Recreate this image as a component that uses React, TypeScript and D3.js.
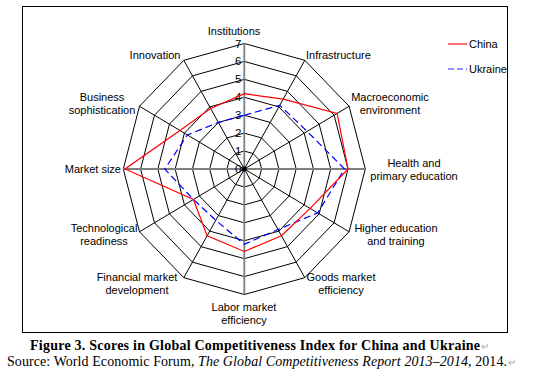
import React from 'react'
import * as d3 from 'd3'

const categories = [
  'Institutions',
  'Infrastructure',
  'Macroeconomic environment',
  'Health and primary education',
  'Higher education and training',
  'Goods market efficiency',
  'Labor market efficiency',
  'Financial market development',
  'Technological readiness',
  'Market size',
  'Business sophistication',
  'Innovation',
]
const chinaScores = [4.2, 4.5, 6.2, 6.0, 4.4, 4.3, 4.6, 4.3, 3.4, 6.9, 4.3, 3.9]
const ukraineScores = [3.0, 4.1, 4.2, 5.8, 4.9, 3.9, 4.2, 3.3, 3.4, 4.6, 3.8, 3.0]
const ticks = [0, 1, 2, 3, 4, 5, 6, 7]
const seriesNames = ['China', 'Ukraine']

// category labels split into lines as in the figure
const labelLines: string[][] = [
  ['Institutions'],
  ['Infrastructure'],
  ['Macroeconomic', 'environment'],
  ['Health and', 'primary education'],
  ['Higher education', 'and training'],
  ['Goods market', 'efficiency'],
  ['Labor market', 'efficiency'],
  ['Financial market', 'development'],
  ['Technological', 'readiness'],
  ['Market size'],
  ['Business', 'sophistication'],
  ['Innovation'],
]
const labelPos: [number, number, string][] = [
  [234, 35, 'middle'],
  [306, 59, 'start'],
  [390, 101, 'middle'],
  [414, 167, 'middle'],
  [396, 232, 'middle'],
  [341, 281, 'middle'],
  [244, 311, 'middle'],
  [137, 281, 'middle'],
  [104, 232, 'middle'],
  [121, 173, 'end'],
  [102, 101, 'middle'],
  [155, 59, 'middle'],
]

const W = 545
const H = 388
const cx = 244.3
const cy = 169
const font = 'Arial, "Liberation Sans", sans-serif'
const serif = '"Liberation Serif", "Times New Roman", serif'

export default function App() {
  const rx = d3.scaleLinear().domain([0, 7]).range([0, 121])
  const ry = d3.scaleLinear().domain([0, 7]).range([0, 125.5])
  const angle = d3
    .scaleLinear()
    .domain([0, categories.length])
    .range([0, 2 * Math.PI])

  const pt = (i: number, v: number): [number, number] => [
    cx + rx(v) * Math.sin(angle(i)),
    cy - ry(v) * Math.cos(angle(i)),
  ]

  const closed = d3.line().curve(d3.curveLinearClosed)
  const ring = (v: number) => closed(categories.map((_, i) => pt(i, v)))!
  const series = (vals: number[]) => closed(vals.map((v, i) => pt(i, v)))!

  return (
    <svg
      width={W}
      height={H}
      style={{ position: 'absolute', left: 0, top: 0, background: '#fff' }}
    >
      <rect x={22.5} y={6.5} width={485} height={326} fill="none" stroke="#000" />

      {/* grid rings */}
      {ticks.slice(1).map((t) => (
        <path key={t} d={ring(t)} fill="none" stroke="#000" strokeWidth={1} />
      ))}
      {/* spokes */}
      {categories.map((_, i) => {
        const [x, y] = pt(i, 7)
        const main = i % 3 === 0
        return (
          <line
            key={i}
            x1={cx}
            y1={cy}
            x2={x}
            y2={y}
            stroke={main ? '#7f7f7f' : '#000'}
            strokeWidth={main ? 1.8 : 1}
          />
        )
      })}
      <circle cx={cx} cy={cy} r={2.5} fill="#000" />

      {/* value axis tick labels */}
      {ticks.map((t) => (
        <text
          key={t}
          x={cx - 3}
          y={cy - ry(t) + 4}
          textAnchor="end"
          fontFamily={font}
          fontSize={11.5}
          fill="#000"
        >
          {t}
        </text>
      ))}

      {/* series */}
      <path d={series(ukraineScores)} fill="none" stroke="#0000ff" strokeWidth={1.2} strokeDasharray="7,4" />
      <path d={series(chinaScores)} fill="none" stroke="#ff0000" strokeWidth={1.2} />

      {/* category labels */}
      {labelLines.map((lines, i) => (
        <text
          key={i}
          x={labelPos[i][0]}
          y={labelPos[i][1]}
          textAnchor={labelPos[i][2] as any}
          fontFamily={font}
          fontSize={11}
          fill="#000"
        >
          {lines.map((l, j) => (
            <tspan key={j} x={labelPos[i][0]} dy={j === 0 ? 0 : 13}>
              {l}
            </tspan>
          ))}
        </text>
      ))}

      {/* legend */}
      {seriesNames.map((name, i) => (
        <g key={name} transform={`translate(448,${44 + i * 25})`}>
          <line
            x1={0}
            x2={19}
            y1={0}
            y2={0}
            stroke={i === 0 ? '#ff4040' : '#7070ff'}
            strokeWidth={1.5}
            strokeDasharray={i === 0 ? undefined : '6,3'}
          />
          <text x={21} y={4} fontFamily={font} fontSize={11} fill="#000">
            {name}
          </text>
        </g>
      ))}

      {/* caption */}
      <text
        x={30}
        y={350}
        fontFamily={serif}
        fontSize={14}
        fontWeight="bold"
        fill="#000"
        textLength={450}
        lengthAdjust="spacing"
      >
        Figure 3. Scores in Global Competitiveness Index for China and Ukraine
      </text>
      <text x={481} y={350} fontFamily={serif} fontSize={10} fill="#aaa">
        ↵
      </text>
      <text
        x={7}
        y={366}
        fontFamily={serif}
        fontSize={14}
        fill="#000"
        textLength={500}
        lengthAdjust="spacing"
      >
        Source: World Economic Forum,{' '}
        <tspan fontStyle="italic">The Global Competitiveness Report 2013–2014</tspan>, 2014.
      </text>
      <text x={508} y={366} fontFamily={serif} fontSize={10} fill="#aaa">
        ↵
      </text>
    </svg>
  )
}
